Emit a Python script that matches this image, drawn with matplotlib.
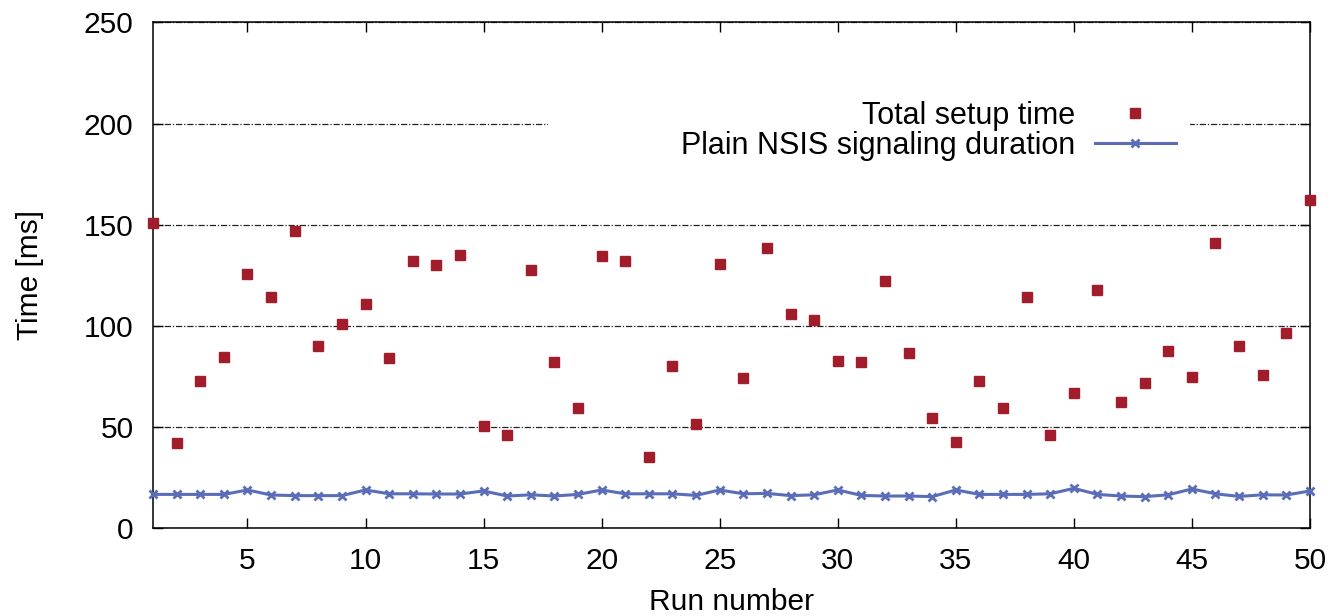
import matplotlib.pyplot as plt
from matplotlib.patches import Rectangle

plt.rcParams['font.family'] = ['Liberation Sans', 'DejaVu Sans']

# run numbers 1..50
runs = list(range(1, 51))

# total setup time [ms]
total_setup = [151, 42, 72.6, 84.5, 125.5, 114, 147, 90, 101, 110.7,
               84, 132, 130, 135, 50.4, 46, 127.5, 82, 59.3, 134.4,
               132, 35, 80, 51.4, 130.4, 74, 138.3, 106, 102.8, 82.5,
               82, 122, 86.5, 54.3, 42.5, 72.6, 59.3, 114, 46, 66.7,
               117.6, 62.3, 71.6, 87.5, 74.6, 140.8, 90, 75.6, 96.3, 162]

# plain NSIS signaling duration [ms]
nsis_duration = [16.6, 16.6, 16.6, 16.6, 18.8, 16.3, 16.0, 16.0, 16.0, 18.8,
                 16.9, 16.9, 16.8, 16.8, 18.3, 15.8, 16.4, 15.8, 16.6, 18.8,
                 16.9, 16.9, 16.9, 16.1, 18.8, 16.9, 17.1, 16.0, 16.4, 18.8,
                 16.1, 15.8, 15.8, 15.5, 18.8, 16.6, 16.6, 16.6, 16.9, 19.6,
                 16.6, 15.8, 15.5, 16.4, 19.3, 16.9, 15.6, 16.4, 16.3, 18.3]

x_ticks = [5, 10, 15, 20, 25, 30, 35, 40, 45, 50]
y_ticks = [0, 50, 100, 150, 200, 250]

red = '#a11d2b'
blue = '#5a6db8'


def main():
    fig, ax = plt.subplots(figsize=(13.33, 6.16), dpi=100)
    fig.subplots_adjust(left=0.1148, right=0.9827, top=0.9635, bottom=0.1429)

    ax.set_xlim(1, 50)
    ax.set_ylim(0, 250)
    ax.set_xticks(x_ticks)
    ax.set_yticks(y_ticks)

    # dash-dot grid, gnuplot style
    ax.set_axisbelow(True)
    ax.yaxis.grid(True, color='#222222', linewidth=0.9, linestyle=(0, (5, 1.5, 1, 1.5)))
    # blank area behind the key
    ax.add_patch(Rectangle((0.341, 0.72), 0.555, 0.14, transform=ax.transAxes,
                           facecolor='white', edgecolor='none', zorder=1))

    ax.plot(runs, total_setup, linestyle='none', marker='s', markersize=7,
            color=red, label='Total setup time', zorder=3, clip_on=False)
    ax.plot(runs, nsis_duration, color=blue, linewidth=2.2, marker='x',
            markersize=6, markeredgewidth=2, label='Plain NSIS signaling duration',
            zorder=3, clip_on=False)

    ax.tick_params(direction='in', length=7, width=1, labelsize=21.5,
                   top=True, right=True, pad=14)
    for s in ax.spines.values():
        s.set_linewidth(1.1)

    ax.set_xlabel('Run number', fontsize=21.5)
    ax.set_ylabel('Time [ms]', fontsize=21.5)
    ax.xaxis.set_label_coords(0.5, -0.1186)
    ax.yaxis.set_label_coords(-0.094, 0.5)

    ax.legend(loc='upper right', bbox_to_anchor=(0.884, 0.845), frameon=False,
              markerfirst=False, fontsize=22, handlelength=2.65, borderpad=0,
              borderaxespad=0, labelspacing=0.0, handletextpad=0.65)

    fig.savefig('out.png')


if __name__ == '__main__':
    main()
